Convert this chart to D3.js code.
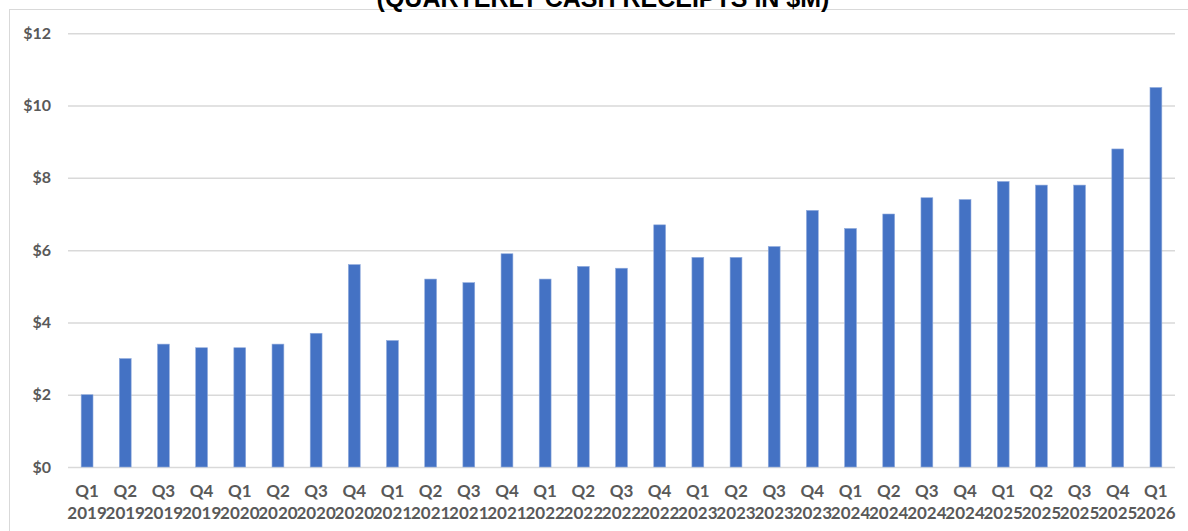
<!DOCTYPE html>
<html>
<head>
<meta charset="utf-8">
<script src="https://cdn.jsdelivr.net/npm/d3@7"></script>
<style>
  html, body { margin: 0; padding: 0; background: #fff; }
  svg { display: block; }
</style>
</head>
<body>
<div id="chart"></div>
<script>
// quarterly cash receipts, $M
var quarters = ['Q1', 'Q2', 'Q3', 'Q4', 'Q1', 'Q2', 'Q3', 'Q4', 'Q1', 'Q2', 'Q3', 'Q4', 'Q1', 'Q2',
                'Q3', 'Q4', 'Q1', 'Q2', 'Q3', 'Q4', 'Q1', 'Q2', 'Q3', 'Q4', 'Q1', 'Q2', 'Q3', 'Q4', 'Q1'];
var years = ['2019', '2019', '2019', '2019', '2020', '2020', '2020', '2020', '2021', '2021', '2021', '2021',
             '2022', '2022', '2022', '2022', '2023', '2023', '2023', '2023', '2024', '2024', '2024', '2024',
             '2025', '2025', '2025', '2025', '2026'];
var values = [2.0, 3.0, 3.4, 3.3, 3.3, 3.4, 3.7, 5.6, 3.5, 5.2, 5.1, 5.9, 5.2, 5.55,
              5.5, 6.7, 5.8, 5.8, 6.1, 7.1, 6.6, 7.0, 7.45, 7.4, 7.9, 7.8, 7.8, 8.8, 10.5];
var yTicks = [0, 2, 4, 6, 8, 10, 12];
var title = '(QUARTERLY CASH RECEIPTS IN $M)';

var width = 1188, height = 531;
var plotLeft = 68, plotRight = 1175, plotTop = 33.3, plotBottom = 467;

var svg = d3.select('#chart').append('svg')
    .attr('width', width)
    .attr('height', height);

// chart frame
svg.append('rect')
    .attr('x', 9.5).attr('y', 9.5)
    .attr('width', 1300).attr('height', 700)
    .attr('fill', 'none')
    .attr('stroke', '#d9d9d9')
    .attr('stroke-width', 1);

svg.append('text')
    .attr('x', 603).attr('y', 7)
    .attr('text-anchor', 'middle')
    .style('font-family', 'Liberation Sans, Arial, sans-serif')
    .style('font-weight', 'bold')
    .style('font-size', '25px')
    .attr('fill', '#000')
    .text(title);

var idx = d3.range(values.length);
var x = d3.scaleBand()
    .domain(idx)
    .range([plotLeft, plotRight])
    .paddingInner(0.69)
    .paddingOuter(0.345);

var y = d3.scaleLinear()
    .domain([0, 12])
    .range([plotBottom, plotTop]);

// gridlines + y labels
var yAxis = d3.axisLeft(y)
    .tickValues(yTicks)
    .tickSize(-(plotRight - plotLeft))
    .tickPadding(17)
    .tickFormat(function(d) { return '$' + d; });

var gy = svg.append('g')
    .attr('transform', 'translate(' + plotLeft + ',0)')
    .call(yAxis);
gy.select('.domain').remove();
gy.selectAll('.tick line')
    .attr('stroke', '#d9d9d9')
    .attr('stroke-width', 1.5);
gy.selectAll('.tick text')
    .attr('fill', '#595959')
    .style('font-family', 'Lato, sans-serif')
    .style('font-weight', 'bold')
    .style('font-size', '16px');

// bars
svg.selectAll('rect.bar')
    .data(values)
    .enter()
    .append('rect')
    .attr('class', 'bar')
    .attr('x', function(d, i) { return x(i); })
    .attr('y', function(d) { return y(d); })
    .attr('width', x.bandwidth())
    .attr('height', function(d) { return plotBottom - y(d); })
    .attr('fill', '#4472c4')
    .attr('stroke', '#8faadc')
    .attr('stroke-width', 0.6);

// x labels, two lines
var xl = svg.append('g').selectAll('text')
    .data(idx)
    .enter()
    .append('text')
    .attr('text-anchor', 'middle')
    .attr('fill', '#595959')
    .style('font-family', 'Lato, sans-serif')
    .style('font-weight', 'bold')
    .style('font-size', '17px');
xl.append('tspan')
    .attr('x', function(i) { return x(i) + x.bandwidth() / 2; })
    .attr('y', 497)
    .text(function(i) { return quarters[i]; });
xl.append('tspan')
    .attr('x', function(i) { return x(i) + x.bandwidth() / 2; })
    .attr('y', 519)
    .text(function(i) { return years[i]; });
</script>
</body>
</html>
